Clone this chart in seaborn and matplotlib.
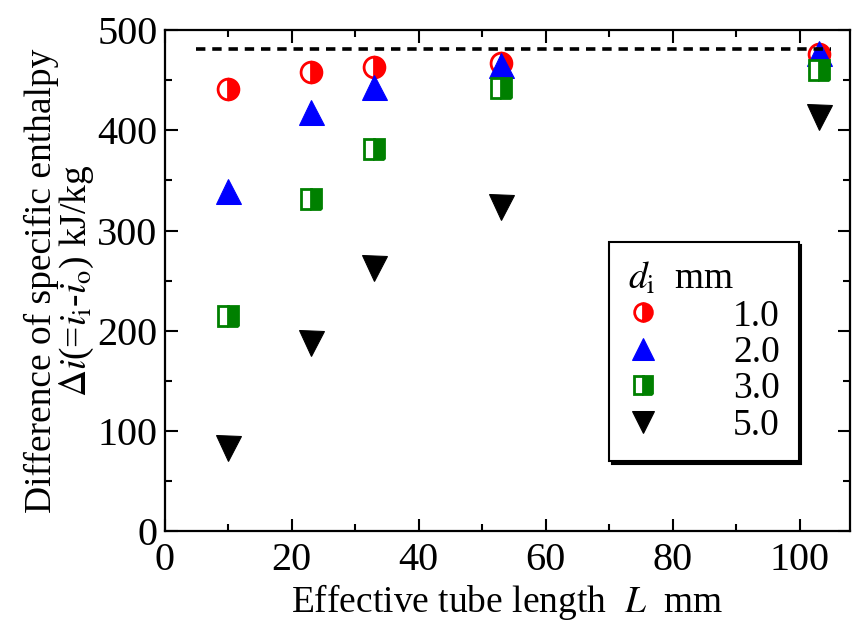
import numpy as np
import pandas as pd
import matplotlib
matplotlib.use("Agg")
import matplotlib.pyplot as plt
import seaborn as sns

# Data
L_mm = [10, 23, 33, 53, 103]
di_labels = ["1.0", "2.0", "3.0", "5.0"]
di_10 = [441, 458, 463, 467, 476]
di_20 = [340, 418, 443, 465, 477]
di_30 = [215, 332, 381, 442, 460]
di_50 = [83, 188, 263, 324, 413]
ref_level = 481
ref_x = [5, 105]

sns.set_theme(style="ticks")
plt.rcParams["font.family"] = ["Liberation Serif", "DejaVu Serif"]
plt.rcParams["mathtext.fontset"] = "stix"
for k in ["text.color", "axes.labelcolor", "xtick.color", "ytick.color", "axes.edgecolor"]:
    plt.rcParams[k] = "black"

fig = plt.figure(figsize=(8.53, 6.28), dpi=100)
ax = fig.add_axes([0.193, 0.154, 0.804, 0.798])

styles = [
    dict(marker="o", color="red", markeredgecolor="red", fillstyle="right", markerfacecoloralt="white",
         markeredgewidth=2.0, markersize=15),
    dict(marker="^", color="blue", markeredgecolor="blue", markersize=18),
    dict(marker="s", color="green", markeredgecolor="green", fillstyle="right", markerfacecoloralt="white",
         markeredgewidth=2.0, markersize=15),
    dict(marker="v", color="black", markeredgecolor="black", markersize=18),
]
series = [di_10, di_20, di_30, di_50]

for vals, lab, st in zip(series, di_labels, styles):
    df = pd.DataFrame({"L": L_mm, "di": vals})
    sns.lineplot(data=df, x="L", y="di", ax=ax, linestyle="", label=lab,
                 errorbar=None, **st)

ax.plot(ref_x, [ref_level, ref_level], color="black", linestyle=(0, (2.6, 1.9)), linewidth=2.6)

ax.set_xlim(0, 108)
ax.set_ylim(0, 500)
ax.set_xticks([0, 20, 40, 60, 80, 100])
ax.set_xticks(np.arange(10, 108, 20), minor=True)
ax.set_yticks([0, 100, 200, 300, 400, 500])
ax.set_yticks(np.arange(50, 500, 100), minor=True)
ax.tick_params(which="both", top=True, right=True, direction="in", width=1.5, labelsize=29,
               colors="black")
ax.tick_params(axis="x", which="major", pad=8)
ax.tick_params(axis="y", which="major", pad=5)
ax.tick_params(which="major", length=9)
ax.tick_params(which="minor", length=5)
for s in ax.spines.values():
    s.set_linewidth(1.6)
    s.set_color("black")

ax.set_xlabel(r"Effective tube length  $\mathit{L}$  mm", fontsize=27, labelpad=2)
ax.set_ylabel("Difference of specific enthalpy\n" + r"$\mathit{\Delta i}$(=$\mathit{i}_{\rm i}$-$\mathit{i}_{\rm o}$) kJ/kg",
              fontsize=27, labelpad=1, linespacing=0.95)

leg = ax.legend(title=r"$\mathit{d}_{\rm i}$  mm", loc="upper left", bbox_to_anchor=(0.621, 0.614),
                frameon=True, fancybox=False, shadow={"color": "black", "alpha": 1.0}, edgecolor="black",
                fontsize=27, title_fontsize=27, handlelength=0.8, handletextpad=2.0,
                borderpad=0.5, labelspacing=0.05, alignment="left", markerscale=0.85)
leg.get_frame().set_linewidth(1.5)

fig.savefig("out.png", dpi=100)
